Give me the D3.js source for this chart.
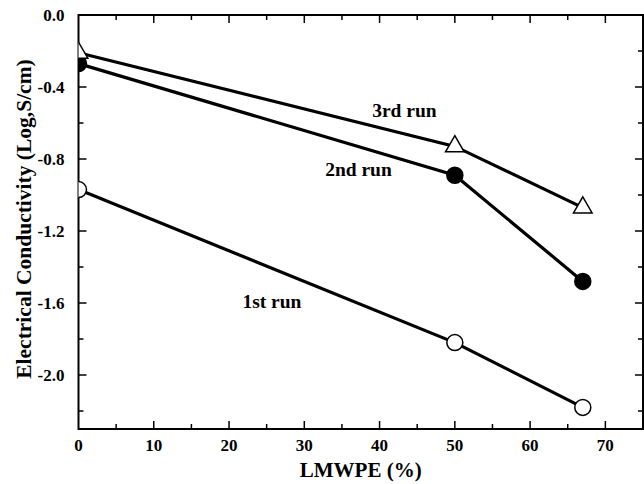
<!DOCTYPE html>
<html>
<head>
<meta charset="utf-8">
<script src="https://cdn.jsdelivr.net/npm/d3@7"></script>
<style>
  body { margin: 0; background: #fff; }
  text { font-family: "Liberation Serif", "Times New Roman", serif; font-weight: bold; fill: #000; }
</style>
</head>
<body>
<div id="chart"></div>
<script>
// data
var xValues = [0, 50, 67];
var run1 = [-0.97, -1.82, -2.18];
var run2 = [-0.27, -0.89, -1.48];
var run3 = [-0.21, -0.73, -1.07];
var runLabels = ["1st run", "2nd run", "3rd run"];
var xTicks = [0, 10, 20, 30, 40, 50, 60, 70];
var yTicks = [0.0, -0.4, -0.8, -1.2, -1.6, -2.0];

// label anchors (centre, baseline) in data units
var labelPos = [[25.7, -1.628], [37.2, -0.894], [43.3, -0.567]];

var width = 644, height = 484;
var margin = {top: 15, right: 1, bottom: 55, left: 78.5};

var svg = d3.select("#chart").append("svg")
    .attr("width", width)
    .attr("height", height);

var x = d3.scaleLinear().domain([0, 75]).range([margin.left, width - margin.right]);
var y = d3.scaleLinear().domain([-2.3, 0]).range([height - margin.bottom, margin.top]);

// clip the markers to the plot frame
svg.append("clipPath").attr("id", "clip")
  .append("rect")
    .attr("x", x(0)).attr("y", y(0))
    .attr("width", x(75) - x(0)).attr("height", y(-2.3) - y(0));

// axes: ticks pointing inwards on all four sides
var xMinor = d3.range(0, 76, 5);
var yMinor = d3.range(0, 12).map(function(i) { return -i * 0.2; });

function tickLen(v, step) { return Math.abs(v / step - Math.round(v / step)) < 1e-6 ? 8 : 5; }

var g = svg.append("g").attr("class", "axes");

xMinor.forEach(function(v) {
  if (v === 0 || v === 75) return;
  var L = v % 10 === 0 ? 8 : 5;
  g.append("line").attr("x1", x(v)).attr("x2", x(v))
    .attr("y1", y(-2.3)).attr("y2", y(-2.3) - L)
    .attr("stroke", "#000").attr("stroke-width", 1.5);
  g.append("line").attr("x1", x(v)).attr("x2", x(v))
    .attr("y1", y(0)).attr("y2", y(0) + L)
    .attr("stroke", "#000").attr("stroke-width", 1.5);
});

yMinor.forEach(function(v) {
  if (v === 0) return;
  var L = tickLen(v, 0.4);
  g.append("line").attr("x1", x(0)).attr("x2", x(0) + L)
    .attr("y1", y(v)).attr("y2", y(v))
    .attr("stroke", "#000").attr("stroke-width", 1.5);
  g.append("line").attr("x1", x(75)).attr("x2", x(75) - L)
    .attr("y1", y(v)).attr("y2", y(v))
    .attr("stroke", "#000").attr("stroke-width", 1.5);
});

g.append("rect")
  .attr("x", x(0)).attr("y", y(0))
  .attr("width", x(75) - x(0)).attr("height", y(-2.3) - y(0))
  .attr("fill", "none").attr("stroke", "#000").attr("stroke-width", 2);

// tick labels
g.selectAll(".xlab").data(xTicks).enter().append("text")
  .attr("x", function(d) { return x(d); })
  .attr("y", y(-2.3) + 22)
  .attr("text-anchor", "middle")
  .style("font-size", "17px")
  .text(function(d) { return d; });

g.selectAll(".ylab").data(yTicks).enter().append("text")
  .attr("x", x(0) - 14)
  .attr("y", function(d) { return y(d) + 6; })
  .attr("text-anchor", "end")
  .style("font-size", "17px")
  .text(function(d) { return d3.format(".1f")(d).replace("−", "-"); });

// axis titles
svg.append("text")
  .attr("x", (x(0) + x(75)) / 2)
  .attr("y", 477)
  .attr("text-anchor", "middle")
  .style("font-size", "21px")
  .text("LMWPE (%)");

svg.append("text")
  .attr("transform", "translate(31," + 219 + ") rotate(-90)")
  .attr("text-anchor", "middle")
  .style("font-size", "21.5px")
  .text("Electrical Conductivity (Log,S/cm)");

// series
var line = d3.line()
  .x(function(d) { return x(d[0]); })
  .y(function(d) { return y(d[1]); });

var series = [run1, run2, run3].map(function(vals) {
  return xValues.map(function(v, i) { return [v, vals[i]]; });
});

var plot = svg.append("g").attr("clip-path", "url(#clip)");

series.forEach(function(pts) {
  plot.append("path")
    .datum(pts)
    .attr("d", line)
    .attr("fill", "none")
    .attr("stroke", "#000")
    .attr("stroke-width", 3.2);
});

// open circles (1st run)
plot.selectAll(".c1").data(series[0]).enter().append("circle")
  .attr("cx", function(d) { return x(d[0]); })
  .attr("cy", function(d) { return y(d[1]); })
  .attr("r", 8)
  .attr("fill", "#fff").attr("stroke", "#000").attr("stroke-width", 1.5);

// filled circles (2nd run)
plot.selectAll(".c2").data(series[1]).enter().append("circle")
  .attr("cx", function(d) { return x(d[0]); })
  .attr("cy", function(d) { return y(d[1]); })
  .attr("r", 8)
  .attr("fill", "#000").attr("stroke", "#000").attr("stroke-width", 1.5);

// open triangles (3rd run)
var tri = d3.symbol().type(d3.symbolTriangle).size(150);
plot.selectAll(".t3").data(series[2]).enter().append("path")
  .attr("d", tri)
  .attr("transform", function(d) { return "translate(" + x(d[0]) + "," + y(d[1]) + ")"; })
  .attr("fill", "#fff").attr("stroke", "#000").attr("stroke-width", 1.5);

// run labels
svg.selectAll(".runlab").data(runLabels).enter().append("text")
  .attr("x", function(d, i) { return x(labelPos[i][0]); })
  .attr("y", function(d, i) { return y(labelPos[i][1]); })
  .attr("text-anchor", "middle")
  .style("font-size", "19.5px")
  .text(function(d) { return d; });
</script>
</body>
</html>
